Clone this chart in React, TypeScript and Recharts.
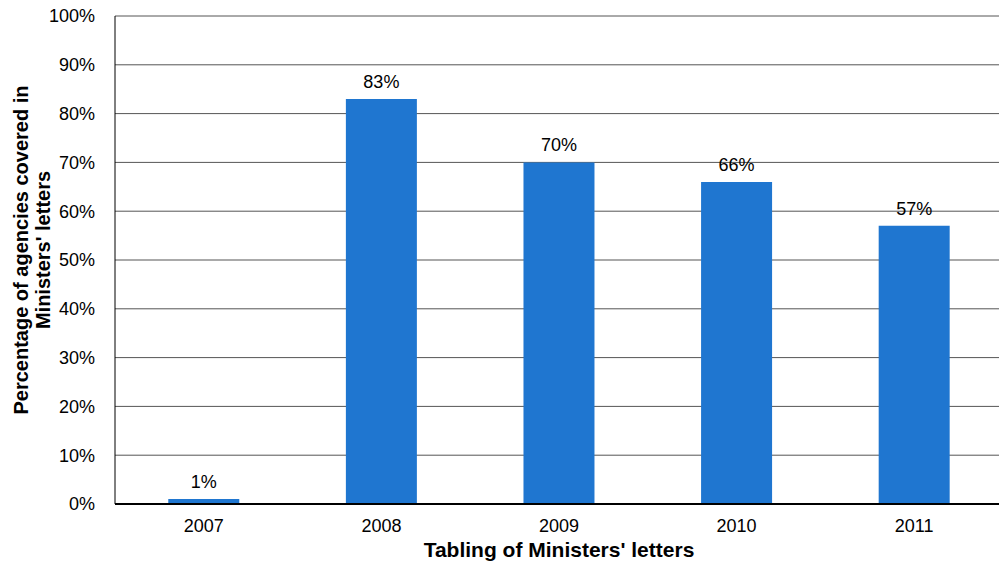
import React from 'react';
import { BarChart, Bar, XAxis, YAxis, CartesianGrid, LabelList } from 'recharts';

const years = ['2007', '2008', '2009', '2010', '2011'];
const coverage = [1, 83, 70, 66, 57];
const percentTicks = [0, 10, 20, 30, 40, 50, 60, 70, 80, 90, 100];

const data = years.map((year, i) => ({ year, coverage: coverage[i] }));

const FONT = '"Liberation Sans", Arial, sans-serif';

// two-line rotated title for the value axis
const YTitle = (props: any) => {
    const { viewBox } = props;
    const cy = viewBox.y + viewBox.height / 2 - 10;
    return (
        <text
            transform={`translate(33, ${cy}) rotate(-90)`}
            textAnchor="middle"
            fontFamily={FONT}
            fontSize={20}
            fontWeight="bold"
            fill="#000"
        >
            <tspan x={0} dy={-5}>Percentage of agencies covered in</tspan>
            <tspan x={0} dy={22}>Ministers' letters</tspan>
        </text>
    );
};

const App: React.FC = () => {
    return (
        <div style={{ position: 'fixed', left: 0, top: 0, background: '#fff' }}>
            <BarChart
                width={1003}
                height={562}
                data={data}
                margin={{ top: 16, right: 0, left: 0, bottom: 0 }}
                barCategoryGap="30%"
            >
                <CartesianGrid vertical={false} stroke="#555" strokeWidth={1} />
                <XAxis
                    dataKey="year"
                    height={58}
                    tickLine={false}
                    axisLine={{ stroke: '#000', strokeWidth: 2 }}
                    tick={{ fill: '#000', fontSize: 18, fontFamily: FONT }}
                    tickMargin={9}
                    label={{
                        value: "Tabling of Ministers' letters",
                        position: 'insideBottom',
                        offset: 5,
                        fill: '#000',
                        fontSize: 21,
                        fontWeight: 'bold',
                        fontFamily: FONT,
                    }}
                />
                <YAxis
                    width={115}
                    domain={[0, 100]}
                    ticks={percentTicks}
                    tickFormatter={(v: number) => `${v}%`}
                    tickLine={false}
                    axisLine={{ stroke: '#000', strokeWidth: 1 }}
                    tick={{ fill: '#000', fontSize: 18, fontFamily: FONT }}
                    tickMargin={14}
                    label={<YTitle />}
                />
                <Bar dataKey="coverage" fill="#1f76d0" isAnimationActive={false}>
                    <LabelList
                        dataKey="coverage"
                        position="top"
                        offset={11}
                        formatter={(v: any) => `${v}%`}
                        style={{ fill: '#000', fontSize: 18, fontFamily: FONT }}
                    />
                </Bar>
            </BarChart>
        </div>
    );
};

export default App;
